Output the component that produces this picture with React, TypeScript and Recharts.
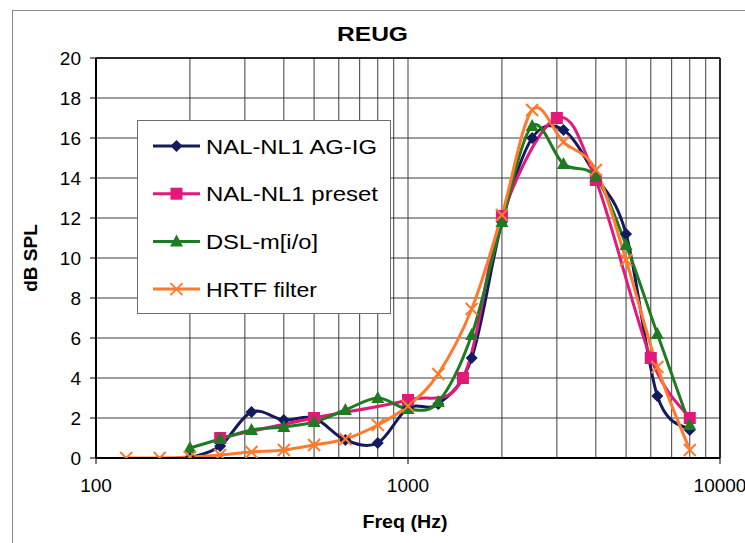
import { LineChart, Line, XAxis, YAxis, CartesianGrid, ReferenceLine } from 'recharts'

// third-octave centre frequencies (Hz)
const THIRD_OCT = [125, 160, 200, 250, 315, 400, 500, 630, 800, 1000, 1250, 1600, 2000, 2500, 3150, 4000, 5000, 6300, 8000]
// audiometric frequencies (Hz)
const AUDIO_FREQS = [250, 500, 1000, 1500, 2000, 3000, 4000, 6000, 8000]

// dB SPL per series
const AGIG_VALUES = [-0.5, 0, 0.6, 2.3, 1.9, 2.0, 0.9, 0.75, 2.5, 2.7, 5.0, 11.8, 16.0, 16.4, 14.1, 11.2, 3.1, 1.4] // from 160 Hz
const PRESET_VALUES = [1.0, 2.0, 2.9, 4.0, 12.1, 17.0, 13.9, 5.0, 2.0] // audiometric
const DSL_VALUES = [0.5, 0.95, 1.4, 1.55, 1.8, 2.4, 3.0, 2.45, 2.8, 6.15, 11.8, 16.6, 14.7, 14.05, 10.65, 6.2, 1.65] // from 200 Hz
const HRTF_VALUES = [0, 0, 0.05, 0.15, 0.3, 0.4, 0.65, 0.95, 1.65, 2.6, 4.2, 7.45, 12.15, 17.4, 15.8, 14.4, 9.9, 4.55, 0.4] // from 125 Hz

const X_TICKS = [100, 200, 300, 400, 500, 600, 700, 800, 900, 1000, 2000, 3000, 4000, 5000, 6000, 7000, 8000, 9000, 10000]
const X_LABELS = [100, 1000, 10000]
const Y_TICKS = [0, 2, 4, 6, 8, 10, 12, 14, 16, 18, 20]

const FONT = '"Liberation Sans", Arial, sans-serif'
const NAVY = '#141a5e'
const PINK = '#e2187b'
const GREEN = '#1e7b22'
const ORANGE = '#ff7a2a'

const zip = (freqs: number[], vals: number[]) => vals.map((v, i) => ({ f: freqs[i], v }))

const agigData = zip(THIRD_OCT.slice(1), AGIG_VALUES)
const presetData = zip(AUDIO_FREQS, PRESET_VALUES)
const dslData = zip(THIRD_OCT.slice(2), DSL_VALUES)
const hrtfData = zip(THIRD_OCT, HRTF_VALUES)

// Excel-style smoothed line (Catmull-Rom through every point)
function smoothCurve(context: any) {
  let pts: number[][] = []
  return {
    areaStart() {},
    areaEnd() {},
    lineStart() {
      pts = []
    },
    point(x: number, y: number) {
      pts.push([+x, +y])
    },
    lineEnd() {
      if (!pts.length) return
      context.moveTo(pts[0][0], pts[0][1])
      for (let i = 0; i < pts.length - 1; i++) {
        const p0 = pts[i - 1] || pts[i]
        const p1 = pts[i]
        const p2 = pts[i + 1]
        const p3 = pts[i + 2] || p2
        context.bezierCurveTo(
          p1[0] + (p2[0] - p0[0]) / 6,
          p1[1] + (p2[1] - p0[1]) / 6,
          p2[0] - (p3[0] - p1[0]) / 6,
          p2[1] - (p3[1] - p1[1]) / 6,
          p2[0],
          p2[1],
        )
      }
    },
  }
}

type Shape = 'diamond' | 'square' | 'triangle' | 'cross'

function Marker({ shape, cx, cy, color }: { shape: Shape; cx: number; cy: number; color: string }) {
  if (shape === 'diamond') {
    const r = 6
    return <polygon points={`${cx},${cy - r} ${cx + r},${cy} ${cx},${cy + r} ${cx - r},${cy}`} fill={color} />
  }
  if (shape === 'square') {
    const r = 6
    return <rect x={cx - r} y={cy - r} width={2 * r} height={2 * r} fill={color} />
  }
  if (shape === 'triangle') {
    return <polygon points={`${cx},${cy - 7} ${cx + 6.5},${cy + 5} ${cx - 6.5},${cy + 5}`} fill={color} />
  }
  const r = 6
  return (
    <g stroke={color} strokeWidth={2}>
      <line x1={cx - r} y1={cy - r} x2={cx + r} y2={cy + r} />
      <line x1={cx - r} y1={cy + r} x2={cx + r} y2={cy - r} />
    </g>
  )
}

const dotFor = (shape: Shape, color: string) => (props: any) => {
  const { cx, cy, index } = props
  if (cx == null || cy == null) return <g key={index} />
  return <Marker key={index} shape={shape} cx={cx} cy={cy} color={color} />
}

const SERIES = [
  { name: 'NAL-NL1 AG-IG', color: NAVY, shape: 'diamond' as Shape, width: 171 },
  { name: 'NAL-NL1 preset', color: PINK, shape: 'square' as Shape, width: 172 },
  { name: 'DSL-m[i/o]', color: GREEN, shape: 'triangle' as Shape, width: 112 },
  { name: 'HRTF filter', color: ORANGE, shape: 'cross' as Shape, width: 111 },
]

function LegendBox() {
  return (
    <svg width={254} height={194} style={{ display: 'block' }}>
      <rect x={0.5} y={0.5} width={253} height={193} fill="#fff" stroke="#6e6e6e" />
      {SERIES.map((s, i) => {
        const y = 26 + i * 47.7
        return (
          <g key={s.name}>
            <line x1={16} x2={63} y1={y} y2={y} stroke={s.color} strokeWidth={3} />
            <Marker shape={s.shape} cx={39.5} cy={y} color={s.color} />
            <text
              x={69}
              y={y}
              dominantBaseline="central"
              fontFamily={FONT}
              fontSize={21}
              fill="#000"
              textLength={s.width}
              lengthAdjust="spacingAndGlyphs"
            >
              {s.name}
            </text>
          </g>
        )
      })}
    </svg>
  )
}

function FreqTick(props: any) {
  const { x, y, payload } = props
  if (!X_LABELS.includes(payload.value)) return <g />
  return (
    <g>
      <line x1={x} x2={x} y1={y - 6} y2={y} stroke="#000" />
      <text x={x} y={y + 21} textAnchor="middle" dominantBaseline="central" fontFamily={FONT} fontSize={19} fill="#000">
        {payload.value}
      </text>
    </g>
  )
}

export default function App() {
  return (
    <div style={{ position: 'absolute', left: 0, top: 0, width: 745, height: 543, background: '#fff', overflow: 'hidden' }}>
      <div
        style={{
          position: 'absolute',
          left: 12,
          top: 10,
          width: 760,
          height: 560,
          borderTop: '1px solid #8a8a8a',
          borderLeft: '1px solid #8a8a8a',
        }}
      />
      <svg width={745} height={60} style={{ position: 'absolute', left: 0, top: 0 }}>
        <text
          x={372.5}
          y={33}
          textAnchor="middle"
          dominantBaseline="central"
          fontFamily={FONT}
          fontWeight="bold"
          fontSize={21}
          textLength={71}
          lengthAdjust="spacingAndGlyphs"
        >
          REUG
        </text>
      </svg>
      <div style={{ position: 'absolute', left: 0, top: 0 }}>
        <LineChart width={745} height={543} margin={{ top: 58, right: 25, bottom: 0, left: 0 }}>
          <CartesianGrid stroke="#3c3c3c" strokeWidth={1} />
          <XAxis
            dataKey="f"
            type="number"
            scale="log"
            domain={[100, 10000]}
            ticks={X_TICKS}
            interval={0}
            allowDataOverflow
            tickLine={false}
            tickSize={6}
            tickMargin={0}
            axisLine={{ stroke: '#000', strokeWidth: 2 }}
            tick={<FreqTick />}
            height={85}
            label={{
              content: ({ viewBox }: any) => (
                <text
                  x={viewBox.x + viewBox.width / 2 - 3}
                  y={viewBox.y + 63}
                  textAnchor="middle"
                  dominantBaseline="central"
                  fontFamily={FONT}
                  fontWeight="bold"
                  fontSize={19}
                  textLength={85}
                  lengthAdjust="spacingAndGlyphs"
                >
                  Freq (Hz)
                </text>
              ),
            }}
          />
          <YAxis
            type="number"
            domain={[0, 20]}
            ticks={Y_TICKS}
            interval={0}
            allowDataOverflow
            width={96}
            tickSize={6}
            tickMargin={9}
            tickLine={{ stroke: '#000' }}
            axisLine={{ stroke: '#000', strokeWidth: 2 }}
            tick={{ fill: '#000', fontSize: 19, fontFamily: FONT }}
            label={{
              content: ({ viewBox }: any) => {
                const cy = viewBox.y + viewBox.height / 2
                return (
                  <text
                    x={30}
                    y={cy}
                    transform={`rotate(-90 30 ${cy})`}
                    textAnchor="middle"
                    dominantBaseline="central"
                    fontFamily={FONT}
                    fontWeight="bold"
                    fontSize={19}
                  >
                    dB SPL
                  </text>
                )
              },
            }}
          />
          <ReferenceLine y={20} stroke="#000" strokeWidth={1.5} />
          <ReferenceLine x={10000} stroke="#000" strokeWidth={1.5} />
          <Line
            data={agigData}
            dataKey="v"
            name="NAL-NL1 AG-IG"
            type={smoothCurve as any}
            stroke={NAVY}
            strokeWidth={3}
            dot={dotFor('diamond', NAVY)}
            activeDot={false}
            isAnimationActive={false}
          />
          <Line
            data={presetData}
            dataKey="v"
            name="NAL-NL1 preset"
            type={smoothCurve as any}
            stroke={PINK}
            strokeWidth={3}
            dot={dotFor('square', PINK)}
            activeDot={false}
            isAnimationActive={false}
          />
          <Line
            data={dslData}
            dataKey="v"
            name="DSL-m[i/o]"
            type={smoothCurve as any}
            stroke={GREEN}
            strokeWidth={3}
            dot={dotFor('triangle', GREEN)}
            activeDot={false}
            isAnimationActive={false}
          />
          <Line
            data={hrtfData}
            dataKey="v"
            name="HRTF filter"
            type={smoothCurve as any}
            stroke={ORANGE}
            strokeWidth={3}
            dot={dotFor('cross', ORANGE)}
            activeDot={false}
            isAnimationActive={false}
          />
        </LineChart>
      </div>
      <div style={{ position: 'absolute', left: 137, top: 120 }}>
        <LegendBox />
      </div>
    </div>
  )
}
